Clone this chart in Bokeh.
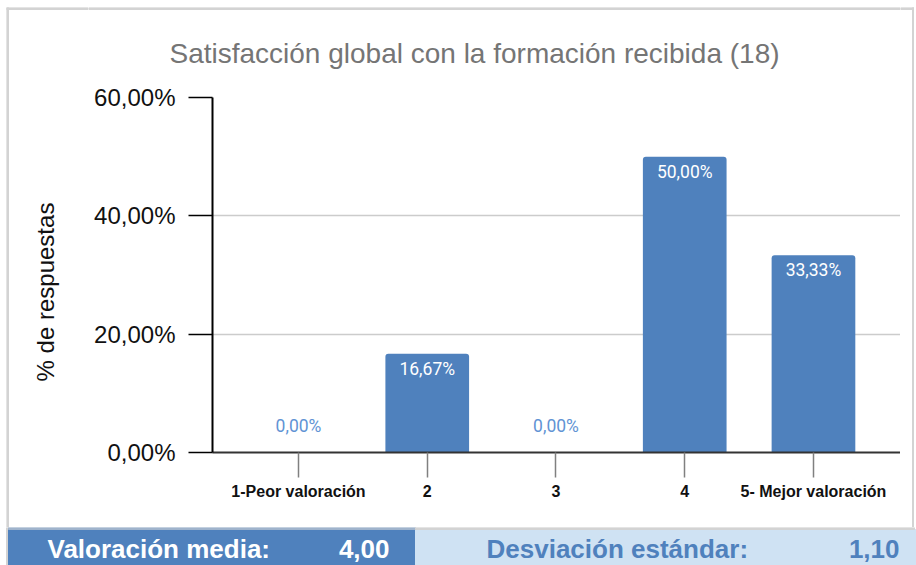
import math
from bokeh.plotting import figure
from bokeh.layouts import column, row
from bokeh.models import Range1d, FixedTicker, ColumnDataSource, Spacer
from bokeh.embed import file_html
from bokeh.resources import INLINE
from bokeh.core.properties import value

# ---------------- data ----------------
title_text = "Satisfacción global con la formación recibida (18)"
categories = ["1-Peor valoración", "2", "3", "4", "5- Mejor valoración"]
percentages = [0.0, 16.67, 0.0, 50.0, 33.33]
y_ticks = [0, 20, 40, 60]
y_tick_labels = ["0,00%", "20,00%", "40,00%", "60,00%"]
y_axis_title = "% de respuestas"
mean_label = "Valoración media:"
mean_value = "4,00"
std_label = "Desviación estándar:"
std_value = "1,10"

# ---------------- style ----------------
BAR = "#4f81bd"
LIGHT = "#cfe2f3"
GRID = "#cccccc"
EDGE = "#d3d3d3"
FONT = "Liberation Sans"


def fmt(v):
    return f"{v:.2f}".replace(".", ",") + "%"


def canvas_fig(w, h):
    """A figure whose plotting frame covers the whole canvas (pixel-like ranges)."""
    f = figure(width=w, height=h, output_backend="svg", toolbar_location=None, tools="",
               x_range=Range1d(0, w), y_range=Range1d(0, h),
               x_axis_location=None, y_axis_location=None,
               min_border=0, min_border_left=0, min_border_right=0,
               min_border_top=0, min_border_bottom=0, frame_align=False)
    f.grid.visible = False
    f.outline_line_color = None
    f.background_fill_color = "white"
    f.border_fill_color = "white"
    return f


ROW_H = 520          # chart box height (page y 7..527)
TITLE_H = 71
MAIN_W, MAIN_H = 812, ROW_H - TITLE_H

# ---------------- left strip: border + y-axis title ----------------
left = canvas_fig(82, ROW_H)
left.quad(left=[0], right=[2], bottom=[0], top=[ROW_H], color=EDGE)
left.quad(left=[0], right=[82], bottom=[ROW_H - 2], top=[ROW_H], color=EDGE)
left.text(x=[39], y=[235.5], text=[y_axis_title], angle=math.pi / 2,
          text_align="center", text_baseline="middle",
          text_font=value(FONT), text_font_size="24px", text_color="#111111")

# ---------------- right strip: border ----------------
right = canvas_fig(14, ROW_H)
right.quad(left=[12], right=[14], bottom=[0], top=[ROW_H], color=EDGE)
right.quad(left=[0], right=[14], bottom=[ROW_H - 2], top=[ROW_H], color=EDGE)

# ---------------- title strip ----------------
tfig = canvas_fig(MAIN_W, TITLE_H)
tfig.quad(left=[0], right=[MAIN_W], bottom=[TITLE_H - 2], top=[TITLE_H], color=EDGE)
tfig.text(x=[386], y=[25.5], text=[title_text], text_align="center", text_baseline="middle",
          text_font=value(FONT), text_font_size="28px", text_color="#757575")

# ---------------- main chart ----------------
xs = list(range(1, len(categories) + 1))
p = figure(width=MAIN_W, height=MAIN_H, output_backend="svg", toolbar_location=None, tools="",
           x_range=Range1d(0.332, 5.676), y_range=Range1d(0, 60), frame_align=False,
           min_border_left=124, min_border_right=0, min_border_top=19, min_border_bottom=75)
p.outline_line_color = None
p.background_fill_color = "white"
p.border_fill_color = "white"

src = ColumnDataSource(dict(x=xs, top=percentages))
p.vbar(x="x", top="top", width=0.65, source=src, fill_color=BAR, line_color=None,
       border_radius=(3, 3, 0, 0))

inside = [i for i, v in enumerate(percentages) if v > 0]
zero = [i for i, v in enumerate(percentages) if v <= 0]
src_in = ColumnDataSource(dict(x=[xs[i] for i in inside], y=[percentages[i] for i in inside],
                               lab=[fmt(percentages[i]) for i in inside]))
src_zero = ColumnDataSource(dict(x=[xs[i] for i in zero], y=[percentages[i] for i in zero],
                                 lab=[fmt(percentages[i]) for i in zero]))
p.text(x="x", y="y", text="lab", source=src_in, text_color="white",
       text_font=value("Roboto"), text_font_size="17.5px", text_align="center",
       text_baseline="middle", y_offset=15)
p.text(x="x", y="y", text="lab", source=src_zero, text_color="#6193d4",
       text_font=value("Roboto"), text_font_size="17.5px", text_align="center",
       text_baseline="middle", y_offset=-27)

ya = p.yaxis[0]
ya.ticker = FixedTicker(ticks=y_ticks)
ya.major_label_overrides = dict(zip(y_ticks, y_tick_labels))
ya.axis_line_color = "black"
ya.axis_line_width = 2
ya.major_tick_out = 24
ya.major_tick_in = 0
ya.major_tick_line_color = "black"
ya.major_tick_line_width = 1.5
ya.minor_tick_line_color = None
ya.major_label_text_font = FONT
ya.major_label_text_font_size = "24px"
ya.major_label_text_color = "#111111"
ya.major_label_standoff = 13

xa = p.xaxis[0]
xa.ticker = FixedTicker(ticks=xs)
xa.major_label_overrides = dict(zip(xs, categories))
xa.axis_line_color = "#333333"
xa.axis_line_width = 2
xa.major_tick_out = 25
xa.major_tick_in = 0
xa.major_tick_line_color = "#808080"
xa.major_tick_line_width = 1.5
xa.minor_tick_line_color = None
xa.major_label_text_font = FONT
xa.major_label_text_font_style = "bold"
xa.major_label_text_font_size = "16px"
xa.major_label_text_color = "#111111"
xa.major_label_standoff = 5

p.xgrid.visible = False
p.ygrid.grid_line_color = GRID
p.ygrid.grid_line_width = 1.5

# ---------------- bottom band ----------------
BAND_H = 38
band = canvas_fig(916, BAND_H)
band.quad(left=[6], right=[8], bottom=[0], top=[BAND_H], color=EDGE)
band.quad(left=[8], right=[415], bottom=[0], top=[BAND_H - 2], color=BAR)
band.quad(left=[415], right=[916], bottom=[0], top=[BAND_H - 2], color=LIGHT)
band.quad(left=[8], right=[415], bottom=[BAND_H - 2], top=[BAND_H], color="#9fb3cc")
band.quad(left=[415], right=[914], bottom=[BAND_H - 2], top=[BAND_H], color=EDGE)
band.text(x=[47, 389, 486, 899], y=[17, 17, 17, 17],
          text=[mean_label, mean_value, std_label, std_value],
          text_align=["left", "right", "left", "right"],
          text_color=["white", "white", BAR, BAR],
          text_baseline="middle", text_font=value(FONT), text_font_style="bold",
          text_font_size="26px")

layout = column(
    Spacer(width=916, height=7),
    row(Spacer(width=6, height=ROW_H), left, column(tfig, p), right, Spacer(width=2, height=ROW_H)),
    band,
)

open("out.html", "w").write(file_html(layout, INLINE))
